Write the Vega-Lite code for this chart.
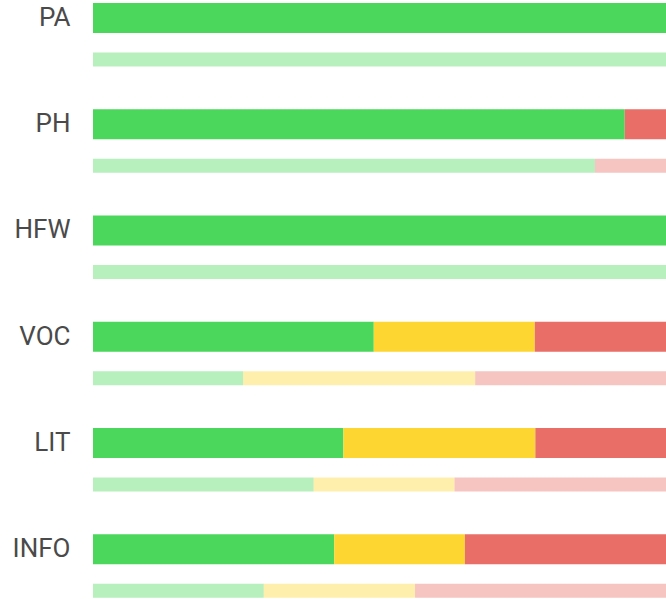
{
  "$schema": "https://vega.github.io/schema/vega-lite/v6.json",
  "width": 573,
  "height": 599,
  "autosize": {"type": "none"},
  "padding": {"left": 93, "top": 0, "right": 0, "bottom": 0},
  "background": "#ffffff",
  "config": {"view": {"stroke": null}},
  "data": {"values": [
    {"cat": "PA", "kind": "main", "status": "pass", "value": 100},
    {"cat": "PA", "kind": "sub", "status": "pass", "value": 100},
    {"cat": "PH", "kind": "main", "status": "pass", "value": 92.8},
    {"cat": "PH", "kind": "main", "status": "fail", "value": 7.2},
    {"cat": "PH", "kind": "sub", "status": "pass", "value": 87.6},
    {"cat": "PH", "kind": "sub", "status": "fail", "value": 12.4},
    {"cat": "HFW", "kind": "main", "status": "pass", "value": 100},
    {"cat": "HFW", "kind": "sub", "status": "pass", "value": 100},
    {"cat": "VOC", "kind": "main", "status": "pass", "value": 49.0},
    {"cat": "VOC", "kind": "main", "status": "partial", "value": 28.1},
    {"cat": "VOC", "kind": "main", "status": "fail", "value": 22.9},
    {"cat": "VOC", "kind": "sub", "status": "pass", "value": 26.2},
    {"cat": "VOC", "kind": "sub", "status": "partial", "value": 40.5},
    {"cat": "VOC", "kind": "sub", "status": "fail", "value": 33.3},
    {"cat": "LIT", "kind": "main", "status": "pass", "value": 43.7},
    {"cat": "LIT", "kind": "main", "status": "partial", "value": 33.5},
    {"cat": "LIT", "kind": "main", "status": "fail", "value": 22.8},
    {"cat": "LIT", "kind": "sub", "status": "pass", "value": 38.5},
    {"cat": "LIT", "kind": "sub", "status": "partial", "value": 24.6},
    {"cat": "LIT", "kind": "sub", "status": "fail", "value": 36.9},
    {"cat": "INFO", "kind": "main", "status": "pass", "value": 42.1},
    {"cat": "INFO", "kind": "main", "status": "partial", "value": 22.8},
    {"cat": "INFO", "kind": "main", "status": "fail", "value": 35.1},
    {"cat": "INFO", "kind": "sub", "status": "pass", "value": 29.8},
    {"cat": "INFO", "kind": "sub", "status": "partial", "value": 26.4},
    {"cat": "INFO", "kind": "sub", "status": "fail", "value": 43.8}
  ]},
  "encoding": {
    "y": {
      "field": "cat", "type": "nominal",
      "sort": ["PA", "PH", "HFW", "VOC", "LIT", "INFO"],
      "scale": {"paddingInner": 0.661, "paddingOuter": 0.15, "align": 0},
      "axis": {"title": null, "domain": false, "ticks": false, "grid": false,
               "labelFont": "Roboto", "labelFontSize": 26, "labelColor": "#4a4a4a",
               "labelPadding": 23}
    },
    "x": {
      "field": "value", "type": "quantitative", "stack": "zero",
      "scale": {"domain": [0, 100], "nice": false, "zero": true},
      "axis": null
    },
    "color": {
      "field": "status", "type": "nominal",
      "scale": {"domain": ["pass", "partial", "fail"], "range": ["#4bd75b", "#fed632", "#e86e67"]},
      "legend": null
    },
    "order": {"field": "status", "sort": "descending"}
  },
  "layer": [
    {
      "transform": [{"filter": "datum.kind === 'main'"}],
      "mark": {"type": "bar", "size": 30, "cornerRadius": 0}
    },
    {
      "transform": [{"filter": "datum.kind === 'sub'"}],
      "mark": {"type": "bar", "size": 14, "yOffset": 41.5, "opacity": 0.4}
    }
  ]
}
